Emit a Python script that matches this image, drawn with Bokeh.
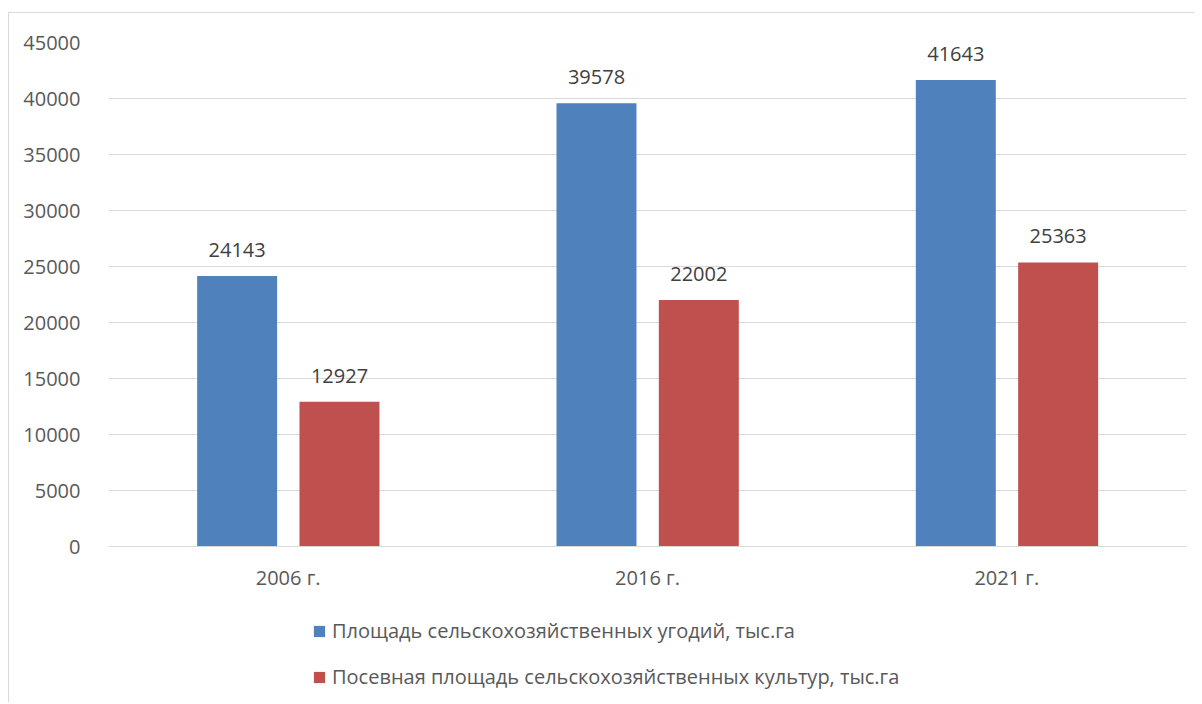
from bokeh.plotting import figure
from bokeh.layouts import column
from bokeh.models import ColumnDataSource, FactorRange, Range1d, NumeralTickFormatter, Legend, LegendItem
from bokeh.transform import dodge
from bokeh.core.properties import value
from bokeh.embed import file_html
from bokeh.resources import INLINE

categories = ["2006 г.", "2016 г.", "2021 г."]
agri_land = [24143, 39578, 41643]
sown_area = [12927, 22002, 25363]
series_names = ["Площадь сельскохозяйственных угодий, тыс.га",
                "Посевная площадь сельскохозяйственных культур, тыс.га"]
series_colors = ["#4F81BD", "#C0504D"]
y_ticks = [0, 5000, 10000, 15000, 20000, 25000, 30000, 35000, 40000, 45000]

FONT = "Open Sans"
TXT = "#595959"
GRID = "#d9d9d9"

src = ColumnDataSource(dict(
    cat=categories,
    a=agri_land, b=sown_area,
    al=[str(v) for v in agri_land], bl=[str(v) for v in sown_area],
))

W = 1185
p = figure(x_range=FactorRange(factors=categories, range_padding=0),
           y_range=Range1d(0, 45000),
           width=W, height=593, output_backend="svg", toolbar_location=None,
           min_border_left=99, min_border_top=29, min_border_right=8, min_border_bottom=60)
p.outline_line_color = None

w = 0.2226
p.vbar(x=dodge("cat", -0.142, range=p.x_range), top="a", width=w, source=src,
       color=series_colors[0], line_color=None)
p.vbar(x=dodge("cat", 0.1428, range=p.x_range), top="b", width=w, source=src,
       color=series_colors[1], line_color=None)

for col, lab, off in (("a", "al", -0.142), ("b", "bl", 0.1428)):
    p.text(x=dodge("cat", off, range=p.x_range), y=col, text=lab, source=src,
           text_align="center", text_baseline="alphabetic", y_offset=-26,
           text_font=value(FONT), text_font_size="20px", text_color="#404040")

p.xgrid.grid_line_color = None
p.ygrid.grid_line_color = GRID
p.ygrid.grid_line_width = 1
p.yaxis.ticker = y_ticks
p.yaxis.axis_line_color = None
p.yaxis.major_tick_line_color = None
p.yaxis.minor_tick_line_color = None
p.yaxis.major_label_standoff = 22
p.yaxis.major_label_text_font = FONT
p.yaxis.major_label_text_font_size = "20px"
p.yaxis.major_label_text_color = TXT
p.yaxis.formatter = NumeralTickFormatter(format="0")

p.xaxis.axis_line_color = GRID
p.xaxis.major_tick_line_color = None
p.xaxis.minor_tick_line_color = None
p.xaxis.major_label_standoff = 11
p.xaxis.major_label_text_font = FONT
p.xaxis.major_label_text_font_size = "20px"
p.xaxis.major_label_text_color = TXT

# legend panel
H2 = 96
q = figure(x_range=Range1d(0, 1), y_range=Range1d(0, 1), width=W, height=H2,
           output_backend="svg", toolbar_location=None,
           min_border_left=0, min_border_right=0, min_border_top=0, min_border_bottom=0)
q.outline_line_color = None
q.axis.visible = False
q.grid.visible = False
items = []
for name, c, col in zip(series_names, series_colors, ("a", "b")):
    r = q.vbar(x=col, top=col, width=1, source=src, color=c, line_color=None, visible=False)
    items.append(LegendItem(label=name, renderers=[r]))
lg = Legend(items=items, location=(204, 12))
lg.orientation = "vertical"
lg.border_line_color = None
lg.background_fill_alpha = 0
lg.padding = 0
lg.margin = 0
lg.spacing = 19
lg.glyph_width = 14
lg.glyph_height = 14
lg.label_height = 27
lg.label_standoff = 6
lg.label_text_font = FONT
lg.label_text_font_size = "20px"
lg.label_text_color = TXT
q.add_layout(lg, "center")

layout = column(p, q, spacing=0)
layout.styles = {"border-left": "1px solid #d9d9d9", "border-top": "1px solid #d9d9d9",
                 "margin-left": "8px", "margin-top": "12px"}

open("out.html", "w").write(file_html(layout, INLINE))
